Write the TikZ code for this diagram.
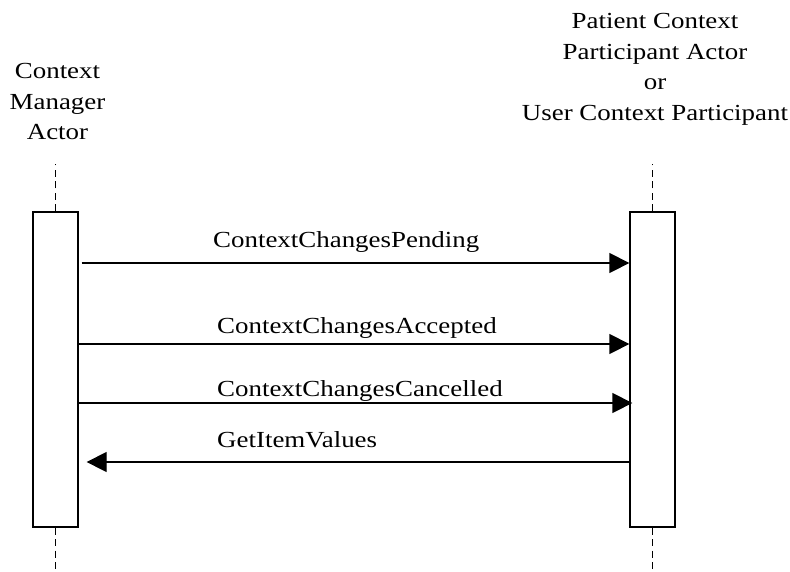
\documentclass[tikz,border=0pt]{standalone}
\usepackage{fontspec}
\setmainfont{Liberation Serif}[FakeStretch=1.17]
\usepackage{tikz}
\usetikzlibrary{arrows.meta, positioning}

\begin{document}
\begin{tikzpicture}[x=1pt, y=-1pt]
\tikzstyle{actbox} = [rectangle, draw, line width=1.3pt, fill=white, minimum width=45pt, minimum height=315pt, inner sep=0pt]
\tikzstyle{life} = [line width=1.4pt, dash pattern=on 7pt off 4.5pt]
\tikzstyle{msg} = [line width=1.3pt, -{Triangle[length=20pt, width=20pt]}]
\tikzstyle{head} = [align=center, inner sep=0pt, anchor=north, font=\fontsize{23}{30.5}\selectfont]
\tikzstyle{lbl} = [inner sep=0pt, anchor=base west, font=\fontsize{23}{26}\selectfont]

\useasboundingbox (0,0) rectangle (790,571);

\node (cm) [head] at (57.5,63.5) {Context\\Manager\\Actor};
\node (pc) [head] at (655,13.5) {Patient Context\\Participant Actor\\or\\User Context Participant};

\node (lbox) [actbox] at (55.5,369.5) {};
\node (rbox) [actbox] at (652.5,369.5) {};

\coordinate (top) at (0,164);
\coordinate (bot) at (0,571);
\draw[life] (lbox.north) -- (lbox.north |- top);
\draw[life] (rbox.north) -- (rbox.north |- top);
\draw[life] (lbox.south) -- (lbox.south |- bot);
\draw[life] (rbox.south) -- (rbox.south |- bot);

\coordinate (m1) at (0,263);
\coordinate (m2) at (0,344);
\coordinate (m3) at (0,403);
\coordinate (m4) at (0,462);

\draw[msg, shorten <=3pt] (lbox.east |- m1) -- (rbox.west |- m1);
\draw[msg] (lbox.east |- m2) -- (rbox.west |- m2);
\draw[msg, shorten >=-3pt] (lbox.east |- m3) -- (rbox.west |- m3);
\draw[msg, shorten >=8pt] (rbox.west |- m4) -- (lbox.east |- m4);

\node (l1) [lbl] at (213,247) {ContextChangesPending};
\node (l2) [lbl] at (217,333) {ContextChangesAccepted};
\node (l3) [lbl] at (217,396) {ContextChangesCancelled};
\node (l4) [lbl] at (217,447) {GetItemValues};

\end{tikzpicture}
\end{document}
